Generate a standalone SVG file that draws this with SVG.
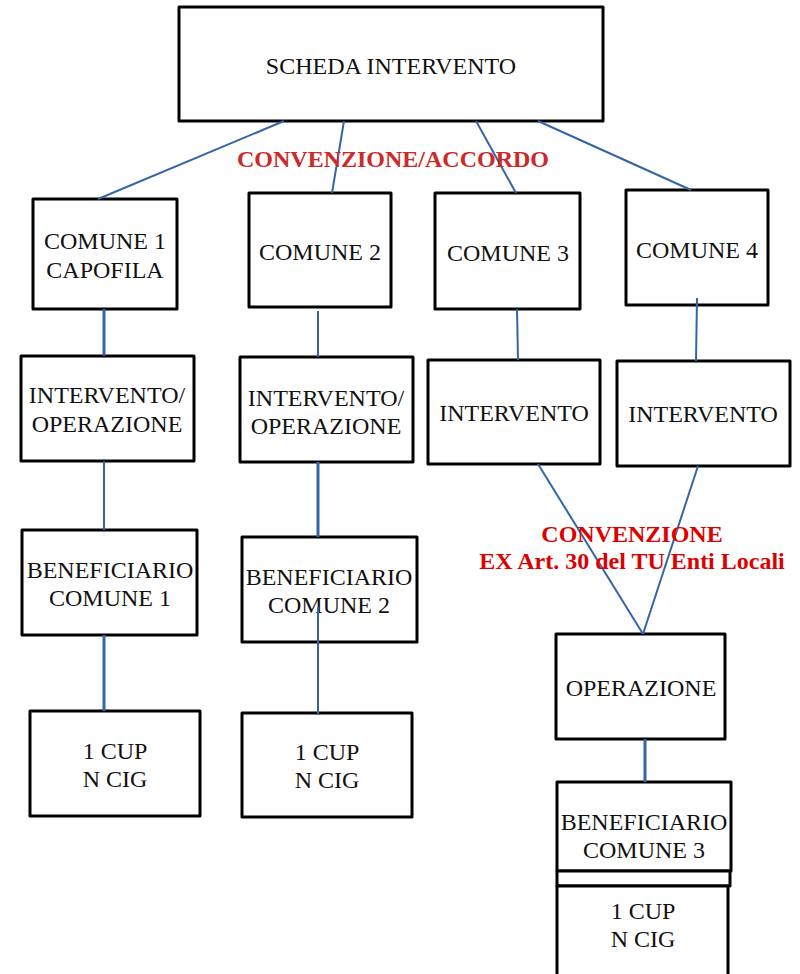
<svg xmlns="http://www.w3.org/2000/svg" width="800" height="974" viewBox="0 0 800 974">
<style>
.box{fill:#fff;stroke:#000;stroke-width:3;stroke-linejoin:round}
.t{font-family:"Liberation Serif",serif;font-size:24px;fill:#111;text-anchor:middle}
.c{stroke:#3465a4;stroke-width:2;fill:none}
.ck{stroke:#3465a4;stroke-width:3;fill:none}
.r1{font-family:"Liberation Serif",serif;font-size:24px;font-weight:bold;fill:#cc2929;text-anchor:middle}
.r2{font-family:"Liberation Serif",serif;font-size:24px;font-weight:bold;fill:#dd0000;text-anchor:middle}
</style>
<rect width="800" height="974" fill="#fff"/>
<g id="scheda"><rect class="box" x="179" y="7" width="424" height="114"/><text class="t" x="391" y="74">SCHEDA INTERVENTO</text></g>
<g id="comune1"><rect class="box" x="33" y="199" width="144" height="110"/><text class="t" x="105" y="249">COMUNE 1</text><text class="t" x="105" y="278">CAPOFILA</text></g>
<g id="comune2"><rect class="box" x="249" y="193" width="142" height="114"/><text class="t" x="320" y="260">COMUNE 2</text></g>
<g id="comune3"><rect class="box" x="435" y="193" width="145" height="116"/><text class="t" x="508" y="261">COMUNE 3</text></g>
<g id="comune4"><rect class="box" x="626" y="190" width="142" height="115"/><text class="t" x="697" y="258">COMUNE 4</text></g>
<g id="io1"><rect class="box" x="21" y="356" width="173" height="105"/><text class="t" x="107" y="403">INTERVENTO/</text><text class="t" x="107" y="432">OPERAZIONE</text></g>
<g id="io2"><rect class="box" x="240" y="357" width="173" height="105"/><text class="t" x="326" y="406">INTERVENTO/</text><text class="t" x="326" y="434">OPERAZIONE</text></g>
<g id="int3"><rect class="box" x="428" y="360" width="172" height="104"/><text class="t" x="514" y="421">INTERVENTO</text></g>
<g id="int4"><rect class="box" x="617" y="361" width="173" height="105"/><text class="t" x="703" y="422">INTERVENTO</text></g>
<g id="ben1"><rect class="box" x="22" y="530" width="175" height="105"/><text class="t" x="110" y="578">BENEFICIARIO</text><text class="t" x="110" y="606">COMUNE 1</text></g>
<g id="ben2"><rect class="box" x="242" y="537" width="175" height="105"/><text class="t" x="329" y="585">BENEFICIARIO</text><text class="t" x="329" y="613">COMUNE 2</text></g>
<g id="cup1"><rect class="box" x="30" y="711" width="170" height="105"/><text class="t" x="115" y="759">1 CUP</text><text class="t" x="115" y="787">N CIG</text></g>
<g id="cup2"><rect class="box" x="242" y="713" width="170" height="104"/><text class="t" x="327" y="760">1 CUP</text><text class="t" x="327" y="788">N CIG</text></g>
<g id="operazione"><rect class="box" x="556" y="634" width="169" height="105"/><text class="t" x="641" y="696">OPERAZIONE</text></g>
<g id="ben3"><rect class="box" x="557" y="782" width="174" height="89"/><text class="t" x="644" y="830">BENEFICIARIO</text><text class="t" x="644" y="858">COMUNE 3</text></g>
<g id="strip"><rect class="box" x="557" y="871" width="173" height="15"/></g>
<g id="cup3"><rect class="box" x="557" y="886" width="171" height="100"/><text class="t" x="643" y="919">1 CUP</text><text class="t" x="643" y="947">N CIG</text></g>
<g id="connectors">
<line class="c" x1="284" y1="121" x2="98" y2="199"/>
<line class="c" x1="344" y1="121" x2="332" y2="193"/>
<line class="c" x1="476" y1="121" x2="516" y2="193"/>
<line class="c" x1="538" y1="121" x2="691" y2="190"/>
<line class="ck" x1="104" y1="309" x2="104" y2="356"/>
<line class="c" x1="318" y1="311" x2="318" y2="357"/>
<line class="c" x1="517" y1="309" x2="518" y2="360"/>
<line class="c" x1="697" y1="298" x2="696" y2="361"/>
<line class="c" x1="104" y1="461" x2="104" y2="530"/>
<line class="ck" x1="318" y1="462" x2="318" y2="537"/>
<line class="c" x1="538" y1="464" x2="643" y2="634"/>
<line class="c" x1="698" y1="466" x2="643" y2="634"/>
<line class="ck" x1="104" y1="635" x2="104" y2="711"/>
<line class="c" x1="318" y1="607" x2="318" y2="715"/>
<line class="ck" x1="645" y1="739" x2="645" y2="782"/>
</g>
<text class="r1" x="393" y="167">CONVENZIONE/ACCORDO</text>
<text class="r2" x="632" y="542">CONVENZIONE</text>
<text class="r2" x="632" y="569">EX Art. 30 del TU Enti Locali</text>
</svg>
